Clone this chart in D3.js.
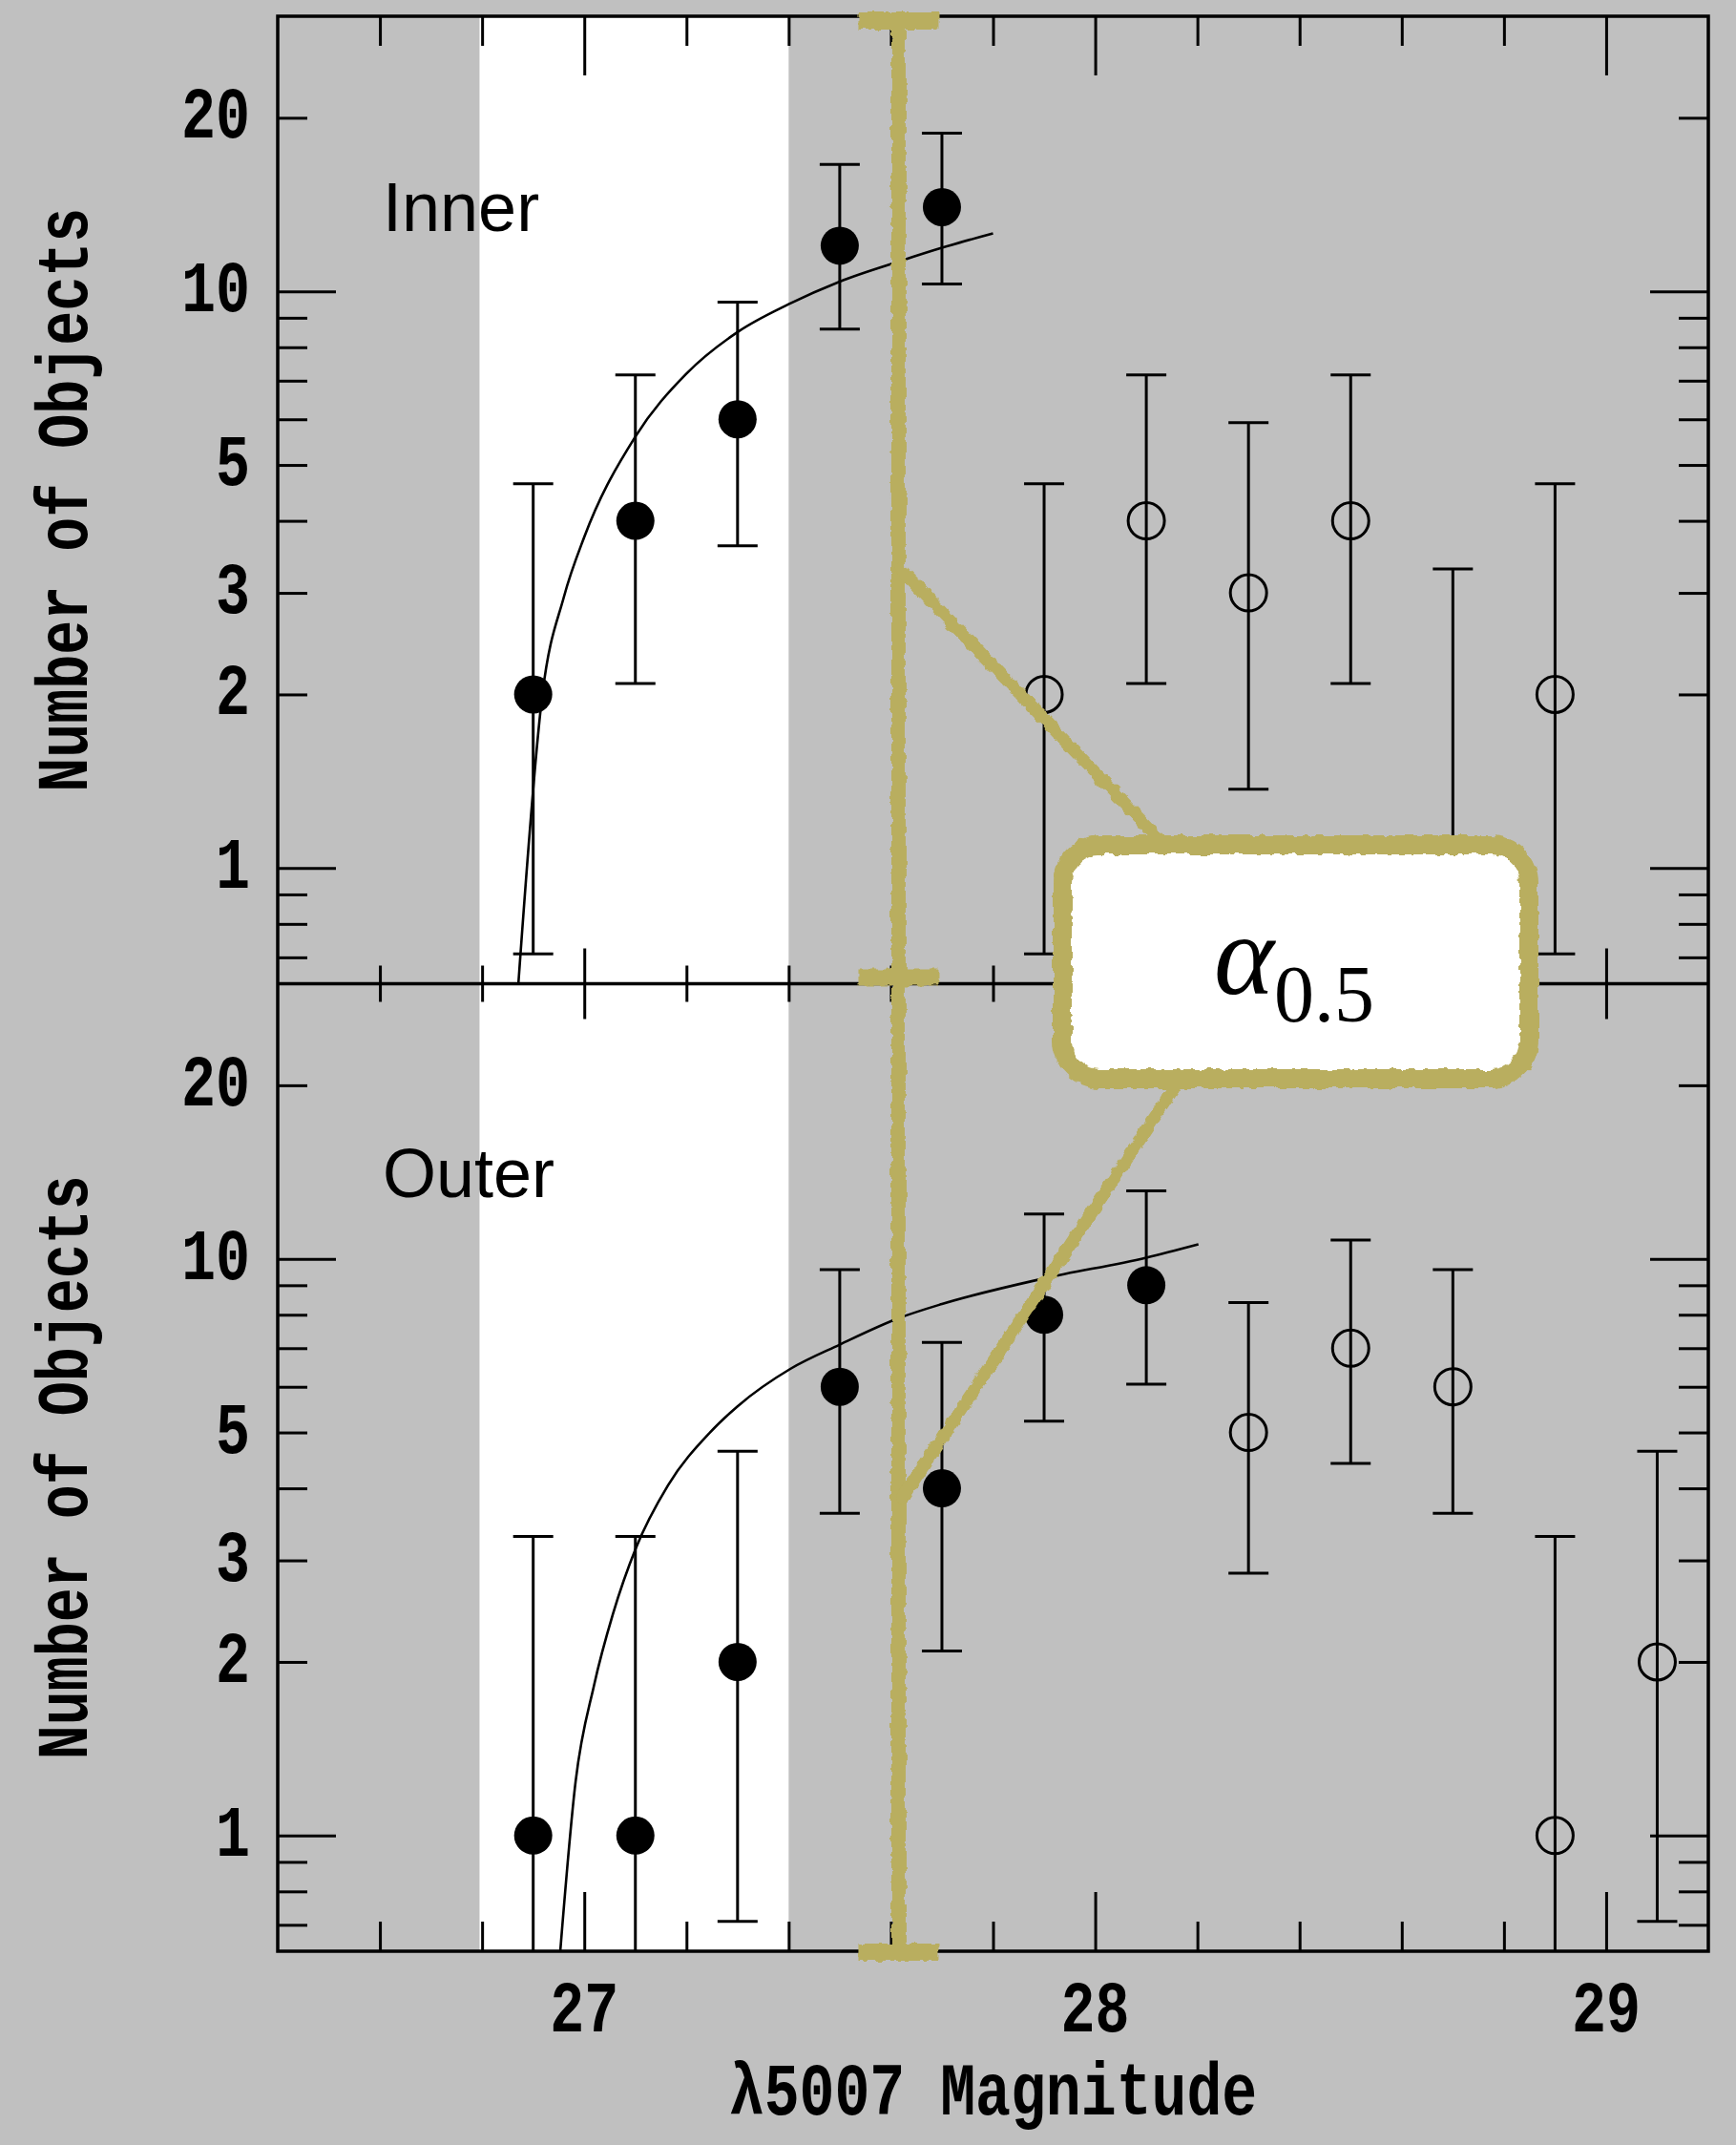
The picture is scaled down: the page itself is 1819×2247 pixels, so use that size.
<!DOCTYPE html>
<html><head><meta charset="utf-8">
<script src="https://cdn.jsdelivr.net/npm/d3@7"></script>
<style>html,body{margin:0;padding:0;background:#c0c0c0;} svg{display:block}</style>
</head><body>
<svg id="chart" width="1819" height="2247"></svg>
<script>
// ---------------- data ----------------
const xTickMajor = [27, 28, 29];
const xTickMinor = [26.6, 26.8, 27.2, 27.4, 27.6, 27.8, 28.2, 28.4, 28.6, 28.8];
const xTickLabels = ["27", "28", "29"];
const yTickLabels = [1, 2, 3, 5, 10, 20];
const yTickMajor = [1, 10];
const yTickMinor = [0.7, 0.8, 0.9, 2, 3, 4, 5, 6, 7, 8, 9, 20];
const panelNames = ["Inner", "Outer"];
const xLabel = "λ5007 Magnitude";
const yLabel = "Number of Objects";
const completenessBand = [26.795, 27.4];

const innerMag    = [26.9, 27.1, 27.3, 27.5, 27.7, 27.9, 28.1, 28.3, 28.5, 28.7, 28.9];
const innerN      = [2, 4, 6, 12, 14, 2, 4, 3, 4, 1, 2];
const innerLo     = [0.71, 2.09, 3.62, 8.6, 10.3, 0.71, 2.09, 1.37, 2.09, 0.17, 0.71];
const innerHi     = [4.64, 7.16, 9.58, 16.6, 18.8, 4.64, 7.16, 5.92, 7.16, 3.30, 4.64];
const innerFilled = [1, 1, 1, 1, 1, 0, 0, 0, 0, 0, 0];
const innerFitMag = [26.871, 26.918, 26.96, 27.0, 27.1, 27.2, 27.3, 27.4, 27.5, 27.62, 27.7, 27.8];
const innerFitN   = [0.63, 2.0, 2.95, 3.75, 5.6, 7.2, 8.5, 9.5, 10.4, 11.3, 11.9, 12.6];

const outerMag    = [26.9, 27.1, 27.3, 27.5, 27.7, 27.9, 28.1, 28.3, 28.5, 28.7, 28.9, 29.1];
const outerN      = [1, 1, 2, 6, 4, 8, 9, 5, 7, 6, 1, 2];
const outerLo     = [0.17, 0.17, 0.71, 3.62, 2.09, 5.23, 6.06, 2.85, 4.42, 3.62, 0.17, 0.71];
const outerHi     = [3.30, 3.30, 4.64, 9.58, 7.16, 11.96, 13.12, 8.40, 10.78, 9.58, 3.30, 4.64];
const outerFilled = [1, 1, 1, 1, 1, 1, 1, 0, 0, 0, 0, 0];
const outerFitMag = [26.953, 26.983, 27.019, 27.056, 27.101, 27.164, 27.246, 27.30, 27.404, 27.50, 27.617, 27.70, 27.90, 28.10, 28.202];
const outerFitN   = [0.63, 1.24, 1.82, 2.42, 3.15, 4.05, 5.0, 5.55, 6.45, 7.1, 7.9, 8.35, 9.25, 10.05, 10.6];

// annotation (alpha_0.5 marker)
const alphaMag = 27.615;
const alphaLabel = "α";
const alphaSub = "0.5";
const pointerTop = {panel: 0, n: 3.3};
const pointerBottom = {panel: 1, n: 3.85};

// ---------------- layout ----------------
const W = 1819, H = 2247;
const L = 291, R = 1790, T = 17, MID = 1030.5, B = 2044;
const GRAY = "#c0c0c0", YEL = "#b9ae5e";
const MONO = "'Liberation Mono', 'Courier New', monospace";
const SY = 1.27; // vertical stretch for typewriter font

const svg = d3.select("#chart");
const defs = svg.append("defs");
svg.append("rect").attr("width", W).attr("height", H).attr("fill", GRAY);

const x = d3.scaleLinear().domain([26.4, 29.2]).range([L, R]);

const panels = [
  {name: panelNames[0], y: d3.scaleLog().domain([0.63, 30]).range([MID, T]), top: T, bottom: MID,
   mag: innerMag, n: innerN, lo: innerLo, hi: innerHi, filled: innerFilled, fitMag: innerFitMag, fitN: innerFitN, labelY: 242},
  {name: panelNames[1], y: d3.scaleLog().domain([0.63, 30]).range([B, MID]), top: MID, bottom: B,
   mag: outerMag, n: outerN, lo: outerLo, hi: outerHi, filled: outerFilled, fitMag: outerFitMag, fitN: outerFitN, labelY: 1254}
];

// completeness band
svg.append("rect")
  .attr("x", x(completenessBand[0])).attr("width", x(completenessBand[1]) - x(completenessBand[0]))
  .attr("y", T).attr("height", B - T).attr("fill", "#ffffff");

panels.forEach((p, i) => {
  const cid = "clip" + i;
  defs.append("clipPath").attr("id", cid).append("rect")
    .attr("x", L).attr("y", p.top).attr("width", R - L).attr("height", p.bottom - p.top);
  const g = svg.append("g").attr("clip-path", `url(#${cid})`);

  // fit curve
  const fit = p.fitMag.map((m, k) => [m, p.fitN[k]]);
  g.append("path").datum(fit)
    .attr("d", d3.line().x(d => x(d[0])).y(d => p.y(d[1])).curve(d3.curveMonotoneX))
    .attr("fill", "none").attr("stroke", "#000").attr("stroke-width", 2.6);

  const pts = p.mag.map((m, k) => ({m, n: p.n[k], lo: p.lo[k], hi: p.hi[k], f: p.filled[k]}));
  // error bars
  const eb = g.selectAll(".eb").data(pts).enter().append("g").attr("stroke", "#000").attr("stroke-width", 3);
  eb.append("line").attr("x1", d => x(d.m)).attr("x2", d => x(d.m))
    .attr("y1", d => p.y(d.lo)).attr("y2", d => p.y(d.hi));
  eb.append("line").attr("x1", d => x(d.m) - 21).attr("x2", d => x(d.m) + 21)
    .attr("y1", d => p.y(d.hi)).attr("y2", d => p.y(d.hi));
  eb.append("line").attr("x1", d => x(d.m) - 21).attr("x2", d => x(d.m) + 21)
    .attr("y1", d => p.y(d.lo)).attr("y2", d => p.y(d.lo));
  // markers
  g.selectAll(".pt").data(pts).enter().append("circle")
    .attr("cx", d => x(d.m)).attr("cy", d => p.y(d.n))
    .attr("r", d => d.f ? 20 : 19)
    .attr("fill", d => d.f ? "#000" : "none")
    .attr("stroke", "#000").attr("stroke-width", d => d.f ? 0 : 3);

  // y axes (ticks only)
  const addAxis = (axis, tx, ty) => {
    const a = svg.append("g").attr("transform", `translate(${tx},${ty})`).call(axis);
    a.select(".domain").remove();
    a.selectAll("line").attr("stroke", "#000").attr("stroke-width", 3);
    a.selectAll("text").remove();
    return a;
  };
  addAxis(d3.axisLeft(p.y).tickValues(yTickMinor).tickSize(-31).tickFormat(""), L, 0);
  addAxis(d3.axisLeft(p.y).tickValues(yTickMajor).tickSize(-61).tickFormat(""), L, 0);
  addAxis(d3.axisRight(p.y).tickValues(yTickMinor).tickSize(-31).tickFormat(""), R, 0);
  addAxis(d3.axisRight(p.y).tickValues(yTickMajor).tickSize(-61).tickFormat(""), R, 0);

  // y tick labels
  svg.selectAll(null).data(yTickLabels).enter().append("text")
    .attr("transform", d => `translate(262,${p.y(d)}) scale(1,${SY})`)
    .attr("y", 16.5)
    .attr("text-anchor", "end")
    .attr("font-family", MONO).attr("font-weight", "bold").attr("font-size", 60)
    .attr("fill", "#000").text(d => d);

  // y label
  svg.append("text")
    .attr("transform", `translate(91,${(p.top + p.bottom) / 2}) rotate(-90) scale(1,${SY})`)
    .attr("text-anchor", "middle")
    .attr("font-family", MONO).attr("font-weight", "bold").attr("font-size", 60)
    .attr("fill", "#000").text(yLabel);

  // panel name
  svg.append("text").attr("x", 401).attr("y", p.labelY)
    .attr("font-family", "'Liberation Sans', Arial, Helvetica, sans-serif").attr("font-size", 72)
    .attr("fill", "#000").text(p.name);
});

// x axes (ticks only)
function addX(axis, ty) {
  const a = svg.append("g").attr("transform", `translate(0,${ty})`).call(axis);
  a.select(".domain").remove();
  a.selectAll("line").attr("stroke", "#000").attr("stroke-width", 3);
  a.selectAll("text").remove();
}
addX(d3.axisTop(x).tickValues(xTickMinor).tickSize(-31).tickFormat(""), T);
addX(d3.axisTop(x).tickValues(xTickMajor).tickSize(-62).tickFormat(""), T);
addX(d3.axisBottom(x).tickValues(xTickMinor).tickSize(-31).tickFormat(""), B);
addX(d3.axisBottom(x).tickValues(xTickMajor).tickSize(-62).tickFormat(""), B);
addX(d3.axisTop(x).tickValues(xTickMinor).tickSize(19).tickFormat(""), MID);
addX(d3.axisBottom(x).tickValues(xTickMinor).tickSize(19).tickFormat(""), MID);
addX(d3.axisTop(x).tickValues(xTickMajor).tickSize(37).tickFormat(""), MID);
addX(d3.axisBottom(x).tickValues(xTickMajor).tickSize(37).tickFormat(""), MID);

// frame
svg.append("rect").attr("x", L).attr("y", T).attr("width", R - L).attr("height", B - T)
  .attr("fill", "none").attr("stroke", "#000").attr("stroke-width", 3.5);
svg.append("line").attr("x1", L).attr("x2", R).attr("y1", MID).attr("y2", MID)
  .attr("stroke", "#000").attr("stroke-width", 3.5);

// x tick labels
svg.selectAll(null).data(xTickMajor).enter().append("text")
  .attr("transform", d => `translate(${x(d)},2128) scale(1,${SY})`)
  .attr("text-anchor", "middle")
  .attr("font-family", MONO).attr("font-weight", "bold").attr("font-size", 60)
  .attr("fill", "#000").text((d, i) => xTickLabels[i]);

// x label
svg.append("text")
  .attr("transform", `translate(${(L + R) / 2},2215) scale(1,${SY})`)
  .attr("text-anchor", "middle")
  .attr("font-family", MONO).attr("font-weight", "bold").attr("font-size", 61.5)
  .attr("fill", "#000").text(xLabel);

// ---------------- chalk annotation ----------------
const f = defs.append("filter").attr("id", "chalk").attr("filterUnits", "userSpaceOnUse")
  .attr("x", 0).attr("y", 0).attr("width", W).attr("height", H);
f.append("feTurbulence").attr("type", "fractalNoise").attr("baseFrequency", 0.11)
  .attr("numOctaves", 2).attr("seed", 4).attr("result", "n");
f.append("feDisplacementMap").attr("in", "SourceGraphic").attr("in2", "n")
  .attr("scale", 7).attr("xChannelSelector", "R").attr("yChannelSelector", "G");

const ax = x(alphaMag);
const chalk = svg.append("g").attr("filter", "url(#chalk)");
chalk.append("line").attr("x1", ax).attr("x2", ax).attr("y1", T + 4).attr("y2", B)
  .attr("stroke", YEL).attr("stroke-width", 15);
[T + 5, MID - 7, B + 1].forEach(cy => {
  chalk.append("line").attr("x1", ax - 42).attr("x2", ax + 42).attr("y1", cy).attr("y2", cy)
    .attr("stroke", YEL).attr("stroke-width", 18);
});
const boxX = 1113, boxY = 885, boxW = 489, boxH = 245;
const pT = panels[pointerTop.panel].y(pointerTop.n);
const pB = panels[pointerBottom.panel].y(pointerBottom.n);
chalk.append("line").attr("x1", ax + 2).attr("y1", pT).attr("x2", 1225).attr("y2", boxY + 5)
  .attr("stroke", YEL).attr("stroke-width", 13).attr("stroke-linecap", "round");
chalk.append("line").attr("x1", ax + 4).attr("y1", pB).attr("x2", 1240).attr("y2", boxY + boxH - 5)
  .attr("stroke", YEL).attr("stroke-width", 13).attr("stroke-linecap", "round");
chalk.append("rect").attr("x", boxX).attr("y", boxY).attr("width", boxW).attr("height", boxH)
  .attr("rx", 40).attr("ry", 40)
  .attr("fill", "#ffffff").attr("stroke", YEL).attr("stroke-width", 20);

const t = svg.append("text").attr("x", 1272).attr("y", 1041)
  .attr("font-family", "'Liberation Serif', 'Times New Roman', serif").attr("fill", "#000");
t.append("tspan").attr("font-style", "italic").attr("font-size", 120).text(alphaLabel);
t.append("tspan").attr("font-size", 84).attr("dy", 29).text(alphaSub);
</script>
</body></html>
